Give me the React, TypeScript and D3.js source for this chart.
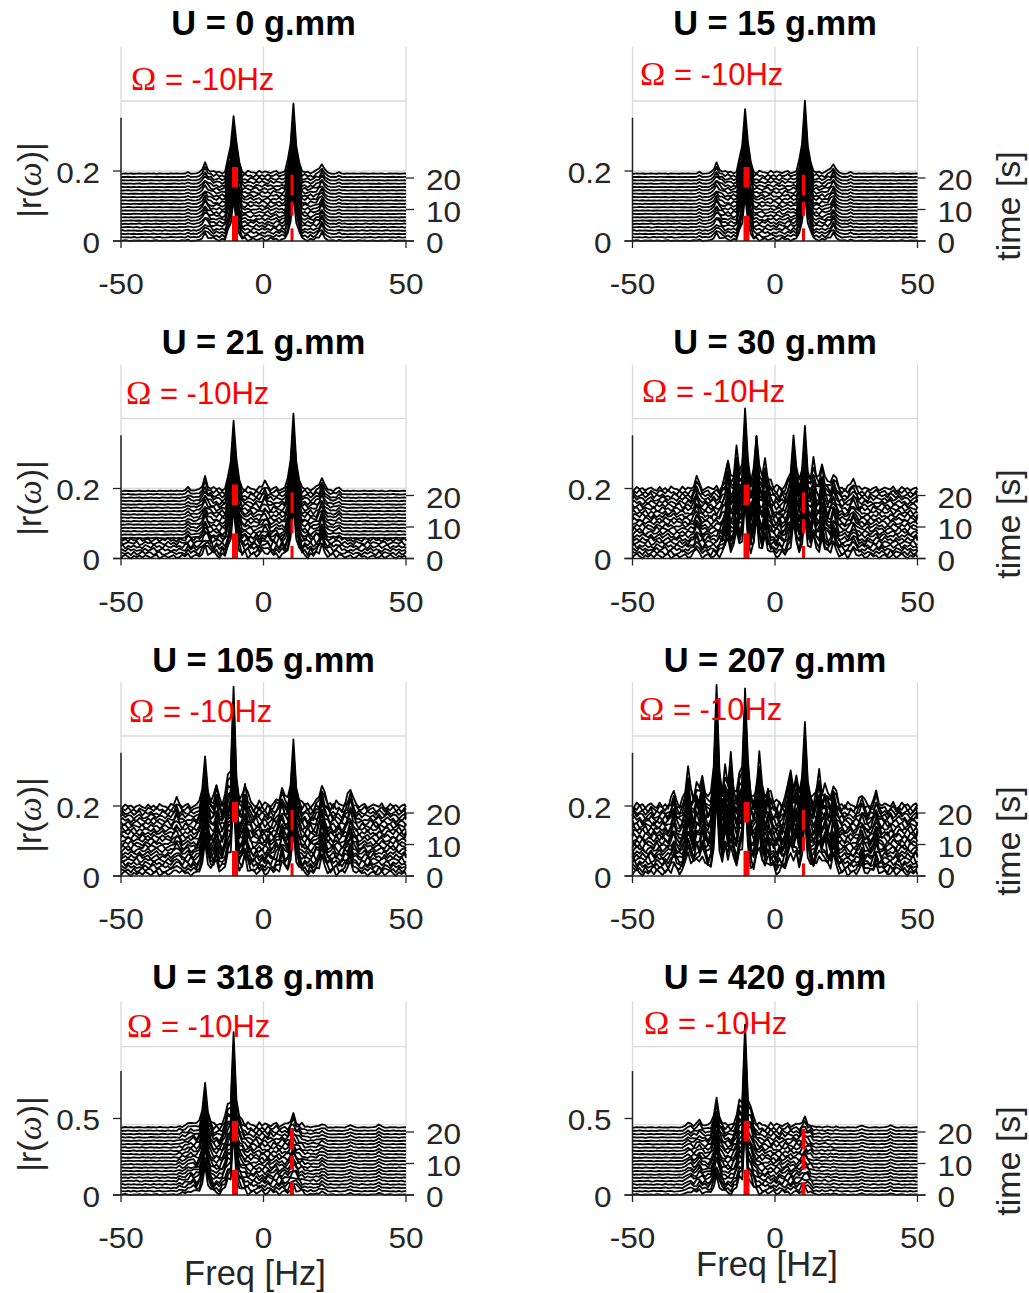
import React from "react";
import * as d3 from "d3";

// Panel titles and layout-independent data
const titles = ["U = 0 g.mm","U = 15 g.mm","U = 21 g.mm","U = 30 g.mm","U = 105 g.mm","U = 207 g.mm","U = 318 g.mm","U = 420 g.mm"];

// Spectral lines: [freq Hz, tip, value 1 Hz away, value 2 Hz away]
const lines0 = [[-26.5,.004,0,0],[-20.5,.024,.012,.004],[-10.5,.163,.075,.03],[10.5,.183,.08,.03],[20.5,.026,.012,.004],[26.5,.004,0,0]];
const lines1 = [[-26.5,.005,0,0],[-20.5,.024,.012,.004],[-10.5,.183,.075,.03],[10.5,.191,.08,.03],[20.5,.026,.012,.004],[26.5,.005,0,0]];
const lines2 = [[-26.5,.008,.002,0],[-20.5,.03,.012,.004],[-10.5,.2,.08,.03],[0.5,.02,.008,0],[10.5,.208,.085,.03],[20.5,.036,.014,.004],[26.5,.008,.002,0]];
const lines3 = [[-27.5,.035,.01,0],[-16.5,.077,.03,.01],[-13.5,.118,.04,.01],[-10.5,.234,.07,.02],[-6.5,.158,.05,.015],[-3.5,.084,.03,.01],[6.5,.149,.05,.015],[10.5,.163,.055,.02],[13.5,.077,.03,.01],[16.5,.074,.03,.01],[20.5,.044,.018,.006],[27.5,.03,.012,0]];
const lines4 = [[-30.5,.023,.006,0],[-20.5,.134,.05,.015],[-16.5,.057,.02,.006],[-11.5,.1,.08,.03],[-10.5,.346,.07,.02],[-6.5,.063,.024,.008],[6.5,.049,.02,.006],[10.5,.174,.06,.02],[20.5,.063,.026,.008],[30.5,.049,.02,.006]];
const lines5 = [[-35.5,.04,.014,0],[-30.5,.106,.04,.012],[-27.5,.054,.02,.006],[-25.5,.09,.03,.01],[-20.5,.32,.11,.03],[-17.5,.097,.035,.01],[-15.5,.14,.05,.014],[-12.5,.077,.03,.01],[-10.5,.34,.11,.03],[-5.5,.131,.05,.014],[-2.5,.045,.018,.006],[5.5,.106,.04,.012],[7.5,.069,.028,.008],[10.5,.214,.08,.024],[15.5,.091,.034,.01],[17.5,.054,.02,.006],[20.5,.06,.022,.006],[30.5,.03,.012,0],[35.5,.035,.012,0]];
const lines6 = [[-25.5,.03,.014,.004],[-20.5,.257,.1,.03],[-12.5,.13,.06,.02],[-10.5,.62,.15,.06],[-8.5,.066,.03,.01],[10.5,.06,.028,.008],[20.5,.02,.008,0],[30.5,.015,.005,0],[40.5,.02,.005,0]];
const lines7 = [[-30.5,.03,.012,0],[-26.5,.03,.014,.004],[-20.5,.17,.07,.02],[-12.5,.158,.06,.02],[-10.5,.67,.15,.06],[-8.5,.13,.05,.015],[10.5,.04,.02,.006],[30.5,.012,.004,0],[40.5,.015,.004,0]];
const spectralLines = [lines0,lines1,lines2,lines3,lines4,lines5,lines6,lines7];

// Estimated height of the trace-to-trace wiggle by frequency band: [from, to, level]
const bands0 = [[-50,-21,.0012],[-21,-13,.009],[-13,-8,.018],[-8,8,.009],[8,13,.018],[13,21,.009],[21,50,.0012]];
const bands1 = [[-50,-21,.0012],[-21,-13,.009],[-13,-8,.018],[-8,8,.009],[8,13,.018],[13,21,.009],[21,50,.0012]];
const bands2 = [[-50,-27,.002],[-27,-21,.005],[-21,21,.014],[21,27,.006],[27,50,.002]];
const bands3 = [[-50,-27,.014],[-27,-20,.016],[-20,22,.024],[22,27,.016],[27,50,.014]];
const bands4 = [[-50,-30,.014],[-30,-20,.016],[-20,30,.024],[30,50,.016]];
const bands5 = [[-50,-30,.02],[-30,22,.034],[22,50,.02]];
const bands6 = [[-50,-30,.005],[-30,-25,.018],[-25,14,.036],[14,22,.012],[22,50,.004]];
const bands7 = [[-50,-30,.004],[-30,-20,.026],[-20,13,.034],[13,22,.01],[22,50,.004]];
const noiseBands = [bands0,bands1,bands2,bands3,bands4,bands5,bands6,bands7];

// Extra wiggle carried by the front traces, mostly in the U = 21 panel
const frontNoise = [.001,.001,.009,0,0,0,.002,.002];

// Hand-typed wiggle shapes (0 to 9), re-used across traces
const ripple0 = [3,7,2,5,9,1,4,8,3,6,0,5,2,8,4,1,7,3,9,2,6,4,0,7,5,1,8,3,6,2,4];
const ripple1 = [6,1,8,3,4,9,2,5,7,0,4,8,1,6,3,9,2,5,0,7,4,1,8,6,2,9,3,5,0,7,2];
const ripple2 = [1,5,9,4,0,6,3,7,2,8,5,1,6,9,0,4,7,2,5,8,1,3,9,4,6,0,5,7,2,3,8];
const ripple3 = [8,2,4,7,1,5,9,0,6,3,7,2,4,0,8,5,1,9,3,6,0,8,4,2,7,3,6,1,9,5,0];
const ripple4 = [4,9,0,6,8,2,5,3,9,1,6,3,8,5,2,7,0,4,8,1,5,9,2,3,0,6,4,8,1,7,3];
const ripple5 = [2,6,5,1,7,3,8,4,0,9,2,7,5,3,6,0,8,1,4,9,3,7,6,0,5,8,1,2,4,9,6];
const ripple6 = [7,3,1,8,2,6,0,9,5,4,1,9,3,7,5,2,6,8,1,4,7,5,3,9,0,2,8,4,6,1,5];
const ripples = [ripple0,ripple1,ripple2,ripple3,ripple4,ripple5,ripple6];

// Per-trace look-ups, front (t = 0) to back
const traceSteps = [0,1,2,3,4,5,6,7,8,9,10,11,12,13,14,15,16,17,18,19,20];
const traceRipple = [2,5,0,3,6,1,4,2,6,0,5,3,1,4,6,2,0,5,3,1,6];
const traceShift = [0,11,23,5,17,29,8,20,2,14,26,9,21,3,15,27,6,18,30,12,24];
const traceGain = [.62,.7,.78,.66,.82,.74,.88,.72,.8,.9,.68,.76,.86,.7,.84,.92,.74,.88,.78,.9,1];

const xTicks = [-50,0,50];
const timeTicks = [0,10,20];
const rTicksTop = [0,0.2];
const rTicksBottom = [0,0.5];
const gridTop = [0.2,0.4];
const gridBottom = [0.46,0.97];
const dashLeft = [[0,8],[17,23.5]];
const dashRight = [[0,4],[8,12.5],[14.5,21]];
const dashRightWidth = [3,3,3,3,3,3,4,4];

const baselines = [241,558.5,876,1195];
const lefts = [121,632.5];
const axisWidth = 285;
const panelTop = 194;
const titleY = [35,354,672,989];
const omegaPos = [[131,90],[640,85],[126,404],[642,402],[129,722],[639,720],[127,1037],[644,1034]];
const timeLabelY = [206,524,841,1161];
const rLabelY = [180,498,815,1134];

const sans = "'Liberation Sans', Arial, sans-serif";
const ink = "#262626";
const freqs = [-50, ...d3.range(-49.5, 50, 1), 50];

function levelAt(bands: number[][], f: number) {
  const b = bands.find((d) => f >= d[0] && f < d[1]);
  return b ? b[2] : bands[bands.length - 1][2];
}
function lineAt(list: number[][], f: number) {
  let v = 0;
  for (const [c, a, s1, s2] of list) {
    const d = Math.abs(f - c);
    if (d < 0.01) v = Math.max(v, a);
    else if (Math.abs(d - 1) < 0.01) v = Math.max(v, s1);
    else if (Math.abs(d - 2) < 0.01) v = Math.max(v, s2);
  }
  return v;
}

// Tick labels in the reference are slightly wider than they are tall
function TickText({ x, y, anchor, children }: { x: number; y: number; anchor?: string; children: React.ReactNode }) {
  return (
    <text transform={`translate(${x},${y}) scale(1.07,1)`} textAnchor={anchor || "start"} fontFamily={sans} fontSize={29.5} fill={ink}>
      {children}
    </text>
  );
}

function Panel({ k }: { k: number }) {
  const col = k % 2;
  const row = Math.floor(k / 2);
  const base = baselines[row];
  const left = lefts[col];
  const x = d3.scaleLinear().domain([-50, 50]).range([left, left + axisWidth]);
  const bottomRow = row === 3;
  const rPx = bottomRow ? 153 : 350;
  const rOffset = bottomRow ? 0.44 : 0.192;
  const t = d3.scaleLinear().domain([0, 20]).range([0, 63]);
  const rTicks = bottomRow ? rTicksBottom : rTicksTop;
  const grid = bottomRow ? gridBottom : gridTop;
  const axisTop = bottomRow ? 0.81 : 0.352;
  const y = d3.scaleLinear().domain([0, 1]).range([base, base - rPx]);
  const stepPx = (rOffset * rPx) / 20;
  const path = d3.line<[number, number]>().x((d) => d[0]).y((d) => d[1]);
  const traces = traceSteps.map((tt, j) =>
    path(
      freqs.map((f, i) => {
        const rp = ripples[traceRipple[j]][(i + traceShift[j]) % 31] / 9;
        const front = j < 6 ? frontNoise[k] : 0;
        const v = (levelAt(noiseBands[k], f) + front) * rp + lineAt(spectralLines[k], f) * traceGain[j];
        return [x(f), y(v) - tt * stepPx] as [number, number];
      })
    )
  );
  const [ox, oy] = omegaPos[k];
  return (
    <g>
      {xTicks.map((v) => (
        <line key={v} x1={x(v)} x2={x(v)} y1={base - panelTop} y2={base} stroke="#dadada" strokeWidth={1.3} />
      ))}
      {grid.map((v) => (
        <line key={v} x1={x(-50)} x2={x(50)} y1={y(v)} y2={y(v)} stroke="#dadada" strokeWidth={1.3} />
      ))}
      {traces.map((d, j) => (
        <path key={j} d={d as string} fill="none" stroke="#000" strokeWidth={1.8} strokeLinejoin="round" />
      ))}
      {dashLeft.map((d, i) => (
        <line key={i} x1={x(-10)} x2={x(-10)} y1={base - t(d[0])} y2={base - t(d[1])} stroke="#ff0000" strokeWidth={6} />
      ))}
      {dashRight.map((d, i) => (
        <line key={i} x1={x(10)} x2={x(10)} y1={base - t(d[0])} y2={base - t(d[1])} stroke="#ff0000" strokeWidth={dashRightWidth[k]} />
      ))}
      <line x1={left - 8} x2={left + axisWidth + 8} y1={base} y2={base} stroke="#222" strokeWidth={1.5} />
      <line x1={left} x2={left} y1={base} y2={y(axisTop)} stroke="#222" strokeWidth={1.5} />
      {rTicks.map((v) => (
        <g key={v}>
          <line x1={left - 8} x2={left} y1={y(v)} y2={y(v)} stroke="#222" strokeWidth={1.3} />
          <TickText x={left - 21} y={y(v) + 11.5} anchor="end">{v}</TickText>
        </g>
      ))}
      {xTicks.map((v) => (
        <g key={v}>
          <line x1={x(v)} x2={x(v)} y1={base} y2={base + 7} stroke="#222" strokeWidth={1.3} />
          <TickText x={x(v)} y={base + 53} anchor="middle">{v}</TickText>
        </g>
      ))}
      {timeTicks.map((v) => (
        <g key={v}>
          <line x1={x(50)} x2={x(50) + 8} y1={base - t(v)} y2={base - t(v)} stroke="#222" strokeWidth={1.3} />
          <TickText x={x(50) + 20} y={base - t(v) + 12}>{v}</TickText>
        </g>
      ))}
      <text x={x(0)} y={titleY[row]} textAnchor="middle" fontFamily={sans} fontWeight="bold" fontSize={34.4} fill="#000">{titles[k]}</text>
      <text x={ox} y={oy} fontFamily={sans} fontSize={31} fill="#ff0000">
        <tspan fontFamily="'Liberation Serif', serif" fontSize={34}>Ω</tspan> = -10Hz
      </text>
      {col === 0 ? (
        <text transform={`translate(41,${rLabelY[row]}) rotate(-90)`} textAnchor="middle" fontFamily={sans} fontSize={34} fill={ink}>
          |r(<tspan fontFamily="'Liberation Serif', serif" fontStyle="italic">ω</tspan>)|
        </text>
      ) : (
        <text transform={`translate(1020,${timeLabelY[row]}) rotate(-90)`} textAnchor="middle" fontFamily={sans} fontSize={34} fill={ink}>time [s]</text>
      )}
    </g>
  );
}

export default function App() {
  return (
    <svg width={1029} height={1293} style={{ position: "absolute", left: 0, top: 0, background: "#fff" }}>
      {titles.map((_, k) => <Panel key={k} k={k} />)}
      <text x={255} y={1285} textAnchor="middle" fontFamily={sans} fontSize={34.5} fill={ink}>Freq [Hz]</text>
      <text x={767} y={1276} textAnchor="middle" fontFamily={sans} fontSize={34.5} fill={ink}>Freq [Hz]</text>
    </svg>
  );
}
